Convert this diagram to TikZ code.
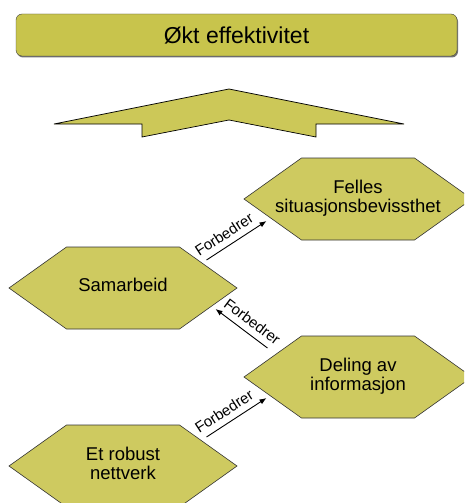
\documentclass[tikz,border=0pt]{standalone}
\usepackage{fontspec}
\setmainfont{Liberation Sans}
\usetikzlibrary{positioning,arrows.meta,shapes.symbols,shadows}

\definecolor{goalfill}{RGB}{200,196,76}
\definecolor{hexfill}{RGB}{206,202,96}
\definecolor{chevfill}{RGB}{204,200,88}

% tekst som ikke gjoer sekskanten bredere
\newcommand{\hexlabel}[1]{\makebox[0pt]{\begin{tabular}{@{}c@{}}#1\end{tabular}}}

\begin{document}
\begin{tikzpicture}[
    x=1pt, y=-1pt,
    >=Latex,
    goal/.style={
        rectangle,
        rounded corners=6pt,
        minimum width=441pt,
        minimum height=42pt,
        draw=black!75,
        fill=goalfill,
        drop shadow={shadow xshift=1pt, shadow yshift=-1.5pt, fill=black!55, opacity=1},
        font=\fontsize{23}{26}\selectfont
    },
    hexnode/.style={
        signal,
        signal to=west and east,
        signal from=nowhere,
        signal pointer angle=71,
        minimum width=228pt,
        minimum height=82pt,
        inner sep=1pt,
        draw=black!80,
        line width=0.6pt,
        fill=hexfill,
        font=\fontsize{18.5}{19.5}\selectfont
    },
    chevron/.style={draw=black, line width=0.7pt, fill=chevfill},
    arrow/.style={-{Latex[length=7pt, width=5.5pt]}, line width=0.9pt, black},
    flabel/.style={font=\fontsize{15}{17}\selectfont, sloped, above=5pt, inner sep=1pt}
]

\useasboundingbox (0,0) rectangle (464,503);
\clip (0,0) rectangle (464,503);

% --- Maal ---
\node[goal] (goal) at (236.5,35) {Økt effektivitet};

% --- Pil opp ---
\draw[chevron] (54,124) -- (229,89) -- (404,124) -- (316,124) -- (316,137)
    -- (229,120) -- (142,137) -- (142,124) -- cycle;

% --- Sekskanter ---
\node[hexnode] (felles)    at (358,199) {\hexlabel{Felles\\situasjonsbevissthet}};
\node[hexnode] (samarbeid) at (123,288) {\hexlabel{Samarbeid}};
\node[hexnode] (deling)    at (358,377) {\hexlabel{Deling av\\informasjon}};
\node[hexnode] (nettverk)  at (123,466) {\hexlabel{Et robust\\nettverk}};

% --- Piler ---
\draw[arrow] ([shift={(-31,-28)}]samarbeid.east) -- ([shift={(23,22)}]felles.west)
    node[flabel, pos=0.4] {Forbedrer};
\draw[arrow] ([shift={(24,-29)}]deling.west) -- ([shift={(-22,21)}]samarbeid.east)
    node[flabel, pos=0.43] {Forbedrer};
\draw[arrow] ([shift={(-31,-29)}]nettverk.east) -- ([shift={(23,21)}]deling.west)
    node[flabel, pos=0.4] {Forbedrer};

\end{tikzpicture}
\end{document}
